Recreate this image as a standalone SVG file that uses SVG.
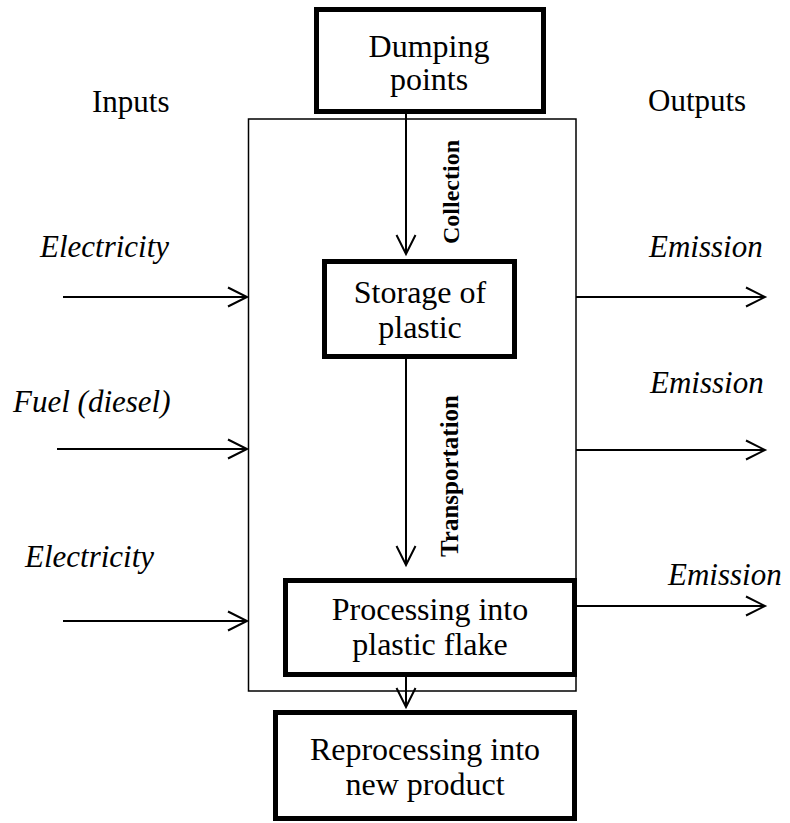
<svg xmlns="http://www.w3.org/2000/svg" width="790" height="823" viewBox="0 0 790 823">
<style>
  .box { fill: #fff; stroke: #000; stroke-width: 5; }
  .frame { fill: none; stroke: #000; stroke-width: 1.5; }
  .conn { stroke: #000; stroke-width: 2; fill: none; marker-end: url(#arr); }
  .t { font-family: "Liberation Serif", "Times New Roman", serif; font-size: 31px; fill: #000; }
  .c { text-anchor: middle; font-size: 32px; }
  .i { font-style: italic; }
  .b { font-weight: bold; font-size: 24px; text-anchor: middle; }
</style>
<defs>
  <marker id="arr" markerUnits="userSpaceOnUse" markerWidth="24" markerHeight="24" refX="20" refY="11" orient="auto">
    <path d="M1,1.5 L20,11 L1,20.5" fill="none" stroke="#000" stroke-width="2"/>
  </marker>
</defs>
<rect width="790" height="823" fill="#fff"/>

<g id="system-boundary">
  <rect class="frame" x="248.5" y="119" width="327.5" height="572"/>
</g>

<g id="connectors">
  <line class="conn" x1="406" y1="113" x2="406" y2="254"/>
  <line class="conn" x1="406" y1="359" x2="406" y2="565"/>
  <line class="conn" x1="406" y1="677" x2="406" y2="707"/>
  <line class="conn" x1="63" y1="297" x2="247" y2="297"/>
  <line class="conn" x1="57" y1="449" x2="247" y2="449"/>
  <line class="conn" x1="63" y1="621" x2="247" y2="621"/>
  <line class="conn" x1="576" y1="297" x2="765" y2="297"/>
  <line class="conn" x1="576" y1="450" x2="765" y2="450"/>
  <line class="conn" x1="577" y1="606" x2="765" y2="606"/>
</g>

<g id="dumping-points">
  <rect class="box" x="316.5" y="9.5" width="227" height="102"/>
  <text class="t c" x="429" y="57">Dumping</text>
  <text class="t c" x="429" y="90">points</text>
</g>

<g id="storage">
  <rect class="box" x="324.5" y="261.5" width="190" height="95"/>
  <text class="t c" x="420" y="303">Storage of</text>
  <text class="t c" x="420" y="338">plastic</text>
</g>

<g id="processing">
  <rect class="box" x="285.5" y="580.5" width="289" height="94"/>
  <text class="t c" x="430" y="620">Processing into</text>
  <text class="t c" x="430" y="655">plastic flake</text>
</g>

<g id="reprocessing">
  <rect class="box" x="275.5" y="712.5" width="299" height="106"/>
  <text class="t c" x="425" y="760">Reprocessing into</text>
  <text class="t c" x="425" y="795">new product</text>
</g>

<g id="labels">
  <text class="t" x="92" y="112">Inputs</text>
  <text class="t" x="648" y="111">Outputs</text>
  <text class="t i" x="40" y="257">Electricity</text>
  <text class="t i" x="13" y="412">Fuel (diesel)</text>
  <text class="t i" x="25" y="567">Electricity</text>
  <text class="t i" x="649" y="257">Emission</text>
  <text class="t i" x="650" y="393">Emission</text>
  <text class="t i" x="668" y="585">Emission</text>
  <text class="t b" transform="translate(459,192) rotate(-90)">Collection</text>
  <text class="t b" transform="translate(458,476) rotate(-90)" style="font-size:25px">Transportation</text>
</g>
</svg>
